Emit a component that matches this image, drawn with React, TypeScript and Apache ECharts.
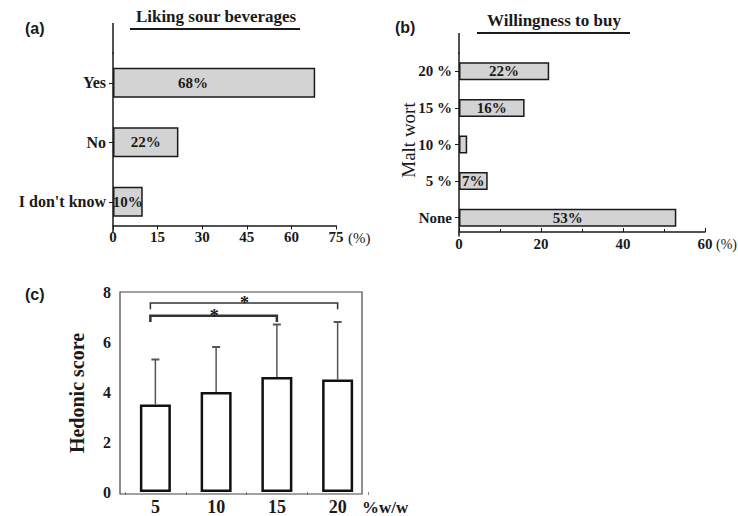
import React, { useEffect, useRef } from "react";
import * as echarts from "echarts";

const likingCategories = ["I don't know", "No", "Yes"];
const likingValues = [10, 22, 68];

const buyCategories = ["None", "5 %", "10 %", "15 %", "20 %"];
const buyValues = [53, 7, 2, 16, 22];

const hedonicCategories = ["5", "10", "15", "20"];
const hedonicMeans = [3.5, 4.0, 4.6, 4.5];
const hedonicSD = [1.8, 1.8, 2.1, 2.3];

// significance brackets: [fromIndex, toIndex, level]
const bracketFrom = [0, 0];
const bracketTo = [2, 3];
const bracketLevel = [7.05, 7.56];
const bracketDrop = 0.25;

const serif = '"Liberation Serif", "Times New Roman", serif';
const sans = '"Liberation Sans", Arial, sans-serif';
const ink = "#1a1a1a";

export default function App() {
  const ref = useRef<HTMLDivElement>(null);
  useEffect(() => {
    if (!ref.current) return;
    const chart = echarts.init(ref.current, undefined, { renderer: "svg" });
    const catLabel = { fontFamily: serif, fontWeight: "bold", fontSize: 15, color: ink };
    const option: any = {
      animation: false,
      backgroundColor: "#fff",
      grid: [
        { left: 113, top: 53, width: 223, height: 178.5 },
        { left: 459, top: 53, width: 246, height: 183 },
        { left: 125, top: 292, width: 243, height: 202 },
      ],
      xAxis: [
        {
          gridIndex: 0, type: "value", min: 0, max: 75, interval: 15, offset: -6,
          axisLine: { show: true, lineStyle: { color: ink, width: 1.5 } },
          axisTick: { show: true, length: 4, lineStyle: { color: ink } },
          splitLine: { show: false },
          axisLabel: { ...catLabel, margin: 4 },
        },
        {
          gridIndex: 1, type: "value", min: 0, max: 60, interval: 20, offset: -4,
          axisLine: { show: true, lineStyle: { color: ink, width: 1.5 } },
          axisTick: { show: true, inside: true, length: 4, lineStyle: { color: ink } },
          minorTick: { show: true, splitNumber: 2, length: 3, lineStyle: { color: ink } },
          splitLine: { show: false },
          axisLabel: { ...catLabel, margin: 4 },
        },
        {
          gridIndex: 2, type: "category", data: hedonicCategories,
          axisLine: { show: false },
          axisTick: { show: true, length: 3, lineStyle: { color: "#888" } },
          axisLabel: { fontFamily: serif, fontWeight: "bold", fontSize: 18, color: ink, margin: 6 },
        },
      ],
      yAxis: [
        {
          gridIndex: 0, type: "category", data: likingCategories,
          axisLine: { show: true, lineStyle: { color: ink, width: 1.5 } },
          axisTick: { show: true, alignWithLabel: true, length: 4, lineStyle: { color: ink } },
          axisLabel: { ...catLabel, fontSize: 16, margin: 7 },
        },
        {
          gridIndex: 1, type: "category", data: buyCategories,
          axisLine: { show: true, lineStyle: { color: ink, width: 1.5 } },
          axisTick: { show: true, alignWithLabel: true, length: 4, lineStyle: { color: ink } },
          axisLabel: { ...catLabel, margin: 7 },
        },
        {
          gridIndex: 2, type: "value", min: 0, max: 8, interval: 2,
          axisLine: { show: false },
          axisTick: { show: false },
          splitLine: { show: false },
          axisLabel: { fontFamily: serif, fontWeight: "bold", fontSize: 16, color: ink, margin: 14 },
        },
      ],
      series: [
        {
          type: "bar", xAxisIndex: 0, yAxisIndex: 0, barWidth: 30,
          data: likingValues.map((v, i) => ({
            value: v,
            label: i === likingValues.length - 1 ? { offset: [-21, 0] } : undefined,
          })),
          itemStyle: { color: "#d3d3d3", borderColor: ink, borderWidth: 1.5 },
          label: {
            show: true, position: "inside", formatter: "{c}%",
            fontFamily: serif, fontWeight: "bold", fontSize: 15, color: ink,
          },
        },
        {
          type: "bar", xAxisIndex: 1, yAxisIndex: 1, barWidth: 18,
          data: buyValues,
          itemStyle: { color: "#d3d3d3", borderColor: ink, borderWidth: 1.5 },
          label: {
            show: true, position: "inside",
            formatter: (p: any) => (p.value >= 5 ? p.value + "%" : ""),
            fontFamily: serif, fontWeight: "bold", fontSize: 15, color: ink,
          },
        },
        {
          type: "bar", xAxisIndex: 2, yAxisIndex: 2, barWidth: 31,
          data: hedonicMeans,
          itemStyle: { color: "#fff", borderColor: "#111", borderWidth: 2.5 },
        },
        {
          type: "custom", xAxisIndex: 2, yAxisIndex: 2,
          encode: { x: 0, y: [1, 2] },
          data: hedonicMeans.map((m, i) => [i, m, +(m + hedonicSD[i]).toFixed(2)]),
          renderItem: (params: any, api: any) => {
            const p0 = api.coord([api.value(0), api.value(1)]);
            const p1 = api.coord([api.value(0), api.value(2)]);
            return {
              type: "group",
              children: [
                { type: "line", shape: { x1: p0[0], y1: p0[1], x2: p1[0], y2: p1[1] }, style: { stroke: "#555", lineWidth: 1.5 } },
                { type: "line", shape: { x1: p1[0] - 4, y1: p1[1], x2: p1[0] + 4, y2: p1[1] }, style: { stroke: "#555", lineWidth: 2 } },
              ],
            };
          },
          z: 1,
        },
        {
          type: "custom", xAxisIndex: 2, yAxisIndex: 2,
          encode: { x: 0, y: 2 },
          data: bracketFrom.map((f, i) => [f, bracketTo[i], bracketLevel[i]]),
          renderItem: (params: any, api: any) => {
            const a = api.coord([api.value(0), api.value(2)]);
            const b = api.coord([api.value(1), api.value(2)]);
            const drop = api.size([0, bracketDrop])[1];
            const w = params.dataIndex === 0 ? 2.5 : 1.5;
            return {
              type: "group",
              children: [
                {
                  type: "polyline",
                  shape: { points: [[a[0] - 5, a[1] + drop], [a[0] - 5, a[1]], [b[0], a[1]], [b[0], a[1] + drop]] },
                  style: { stroke: "#333", lineWidth: w, fill: "none" },
                },
                {
                  type: "text",
                  x: (a[0] + b[0]) / 2 - 2, y: a[1],
                  style: { text: "*", fontFamily: serif, fontWeight: "bold", fontSize: 18, fill: ink, align: "center", verticalAlign: "middle" },
                },
              ],
            };
          },
        },
      ],
      graphic: [
        { type: "text", x: 25, y: 28, style: { text: "(a)", fontFamily: sans, fontWeight: "bold", fontSize: 16, fill: ink, verticalAlign: "middle" } },
        { type: "text", x: 395, y: 27, style: { text: "(b)", fontFamily: sans, fontWeight: "bold", fontSize: 16, fill: ink, verticalAlign: "middle" } },
        { type: "text", x: 25, y: 294, style: { text: "(c)", fontFamily: sans, fontWeight: "bold", fontSize: 16, fill: ink, verticalAlign: "middle" } },
        { type: "text", x: 216, y: 16, style: { text: "Liking sour beverages", fontFamily: serif, fontWeight: "bold", fontSize: 17, fill: ink, align: "center", verticalAlign: "middle" } },
        { type: "line", shape: { x1: 130, y1: 29, x2: 300, y2: 29 }, style: { stroke: ink, lineWidth: 2 } },
        { type: "text", x: 554, y: 20, style: { text: "Willingness to buy", fontFamily: serif, fontWeight: "bold", fontSize: 17, fill: ink, align: "center", verticalAlign: "middle" } },
        { type: "line", shape: { x1: 477, y1: 33, x2: 630, y2: 33 }, style: { stroke: ink, lineWidth: 2 } },
        { type: "line", shape: { x1: 113, y1: 23, x2: 113, y2: 54 }, style: { stroke: ink, lineWidth: 1.5 } },
        { type: "line", shape: { x1: 459, y1: 33, x2: 459, y2: 54 }, style: { stroke: ink, lineWidth: 1.5 } },
        { type: "text", x: 348, y: 238, style: { text: "(%)", fontFamily: serif, fontSize: 15, fill: ink, verticalAlign: "middle" } },
        { type: "text", x: 716, y: 244, style: { text: "(%)", fontFamily: serif, fontSize: 14, fill: ink, verticalAlign: "middle" } },
        { type: "text", x: 408, y: 140, rotation: Math.PI / 2, style: { text: "Malt wort", fontFamily: serif, fontSize: 19, fill: ink, align: "center", verticalAlign: "middle" } },
        { type: "text", x: 77, y: 393, rotation: Math.PI / 2, style: { text: "Hedonic score", fontFamily: serif, fontWeight: "bold", fontSize: 20, fill: ink, align: "center", verticalAlign: "middle" } },
        { type: "rect", shape: { x: 120, y: 292, width: 242, height: 202 }, style: { stroke: "#444", lineWidth: 1.2, fill: "none" }, z: 10 },
        { type: "text", x: 362, y: 507, style: { text: "%w/w", fontFamily: serif, fontWeight: "bold", fontSize: 17, fill: ink, verticalAlign: "middle" } },
      ],
    };
    chart.setOption(option);
    return () => chart.dispose();
  }, []);
  return (
    <div
      ref={ref}
      style={{ position: "fixed", left: 0, top: 0, width: 738, height: 516, background: "#fff" }}
    />
  );
}
